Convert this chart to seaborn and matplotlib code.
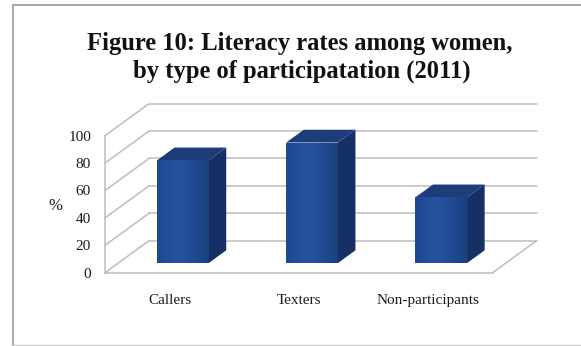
import matplotlib
matplotlib.use("Agg")
import matplotlib.pyplot as plt
import seaborn as sns
import numpy as np
from matplotlib.patches import Polygon
from matplotlib.lines import Line2D
from matplotlib.colors import LinearSegmentedColormap

# ---- data ----
categories = ["Callers", "Texters", "Non-participants"]
values = [75, 88, 48]
y_ticks = [0, 20, 40, 60, 80, 100]
title_lines = ["Figure 10: Literacy rates among women,", "by type of participatation (2011)"]
y_label = "%"

sns.set_style("white")
plt.rcParams["font.family"] = ["Liberation Serif", "DejaVu Serif"]

W, H = 581, 346
fig = plt.figure(figsize=(W / 100, H / 100), dpi=100)
fig.patch.set_facecolor("white")

# axes geometry (pixels)
ax_left, ax_right = 105, 545
ax_bottom, ax_top = 272.7, 95
slot_px = 129.2
unit_px = 1.37
ax = fig.add_axes([ax_left / W, (H - ax_bottom) / H, (ax_right - ax_left) / W, (ax_bottom - ax_top) / H])
ax.set_facecolor("none")

# oblique depth (data units)
DX = 44 / slot_px
DY = 32 / unit_px
front_f, depth_f = 0.30, 0.40

front_col = "#214A91"
side_col = "#162F64"
top_col = "#1C3C7A"
grid_col = "#BDBDBD"
front_cmap = LinearSegmentedColormap.from_list(
    "front", [(0.0, "#1F4890"), (0.4, "#2653A0"), (0.75, "#1F4A91"), (1.0, "#1A407F")])

sns.barplot(x=categories, y=values, width=0.4, color=front_col, saturation=1,
            ax=ax, zorder=3, linewidth=0)

grad = np.linspace(0, 1, 64).reshape(1, -1)
for p in list(ax.patches):
    p.set_x(p.get_x() + front_f * DX)
    p.set_y(front_f * DY)
    p.set_zorder(3)
    x0, y0, w, h = p.get_x(), p.get_y(), p.get_width(), p.get_height()
    im = ax.imshow(grad, cmap=front_cmap, extent=[x0, x0 + w, y0, y0 + h],
                   aspect="auto", zorder=3.05, interpolation="bilinear")
    im.set_clip_path(p)
    bx, by = depth_f * DX, depth_f * DY
    side = Polygon([(x0 + w, y0), (x0 + w + bx, y0 + by), (x0 + w + bx, y0 + h + by), (x0 + w, y0 + h)],
                   closed=True, facecolor=side_col, edgecolor="none", zorder=3)
    top = Polygon([(x0, y0 + h), (x0 + w, y0 + h), (x0 + w + bx, y0 + h + by), (x0 + bx, y0 + h + by)],
                  closed=True, facecolor=top_col, edgecolor="none", zorder=3)
    ax.add_patch(side)
    ax.add_patch(top)

n = len(categories)
xmin, xmax = -0.5, n - 0.5
# back wall gridlines and left wall diagonals
for v in y_ticks:
    ax.plot([xmin + DX, xmax + DX], [v + DY, v + DY], color=grid_col, lw=1.1, zorder=1, clip_on=False)
    ax.plot([xmin, xmin + DX], [v, v + DY], color=grid_col, lw=1.1, zorder=1, clip_on=False)
# floor right edge
ax.plot([xmax, xmax + DX], [0, DY], color=grid_col, lw=1.1, zorder=1, clip_on=False)

ax.set_xlim(xmin, xmin + (ax_right - ax_left) / slot_px)
ax.set_ylim(0, (ax_bottom - ax_top) / unit_px)

for s in ["top", "right"]:
    ax.spines[s].set_visible(False)
ax.spines["left"].set_bounds(0, 100)
ax.spines["bottom"].set_bounds(xmin, xmax)
for s in ["left", "bottom"]:
    ax.spines[s].set_color(grid_col)
    ax.spines[s].set_linewidth(1.1)

ax.set_yticks(y_ticks)
ax.set_yticklabels([str(t) for t in y_ticks])
ax.tick_params(axis="y", length=3, color=grid_col, width=1, pad=7, labelsize=11, labelcolor="#1A1A1A")
ax.set_xticks(range(n))
ax.set_xticklabels(categories)
ax.tick_params(axis="x", which="major", length=0, pad=15, labelsize=11, labelcolor="#1A1A1A")
ax.set_xticks([xmin + i for i in range(n + 1)], minor=True)
ax.tick_params(axis="x", which="minor", length=4, color=grid_col, width=1, direction="out")
ax.set_xlabel("")
ax.set_ylabel(y_label, rotation=0, fontsize=12, color="#1A1A1A", va="center", ha="center")
ax.yaxis.set_label_coords((55 - ax_left) / (ax_right - ax_left), (ax_bottom - 206) / (ax_bottom - ax_top))

# title (fit first line to measured width)
target_w = 426
t1 = fig.text(300 / W, 1 - 50 / H, title_lines[0], ha="center", va="baseline",
              fontsize=18, fontweight="bold", color="#111111")
fig.canvas.draw()
r = fig.canvas.get_renderer()
bw = t1.get_window_extent(r).width
fs = 18 * target_w / bw
t1.set_fontsize(fs)
fig.text(302 / W, 1 - 77.3 / H, title_lines[1], ha="center", va="baseline",
         fontsize=fs, fontweight="bold", color="#111111")

# chart border
fig.add_artist(Line2D([13 / W, 1.0], [1 - 5 / H, 1 - 5 / H], color="#9A9A9A", lw=1.2, transform=fig.transFigure))
fig.add_artist(Line2D([13 / W, 13 / W], [1 - 5 / H, 1 - 345 / H], color="#9A9A9A", lw=1.2, transform=fig.transFigure))
fig.add_artist(Line2D([13 / W, 1.0], [1 - 345 / H, 1 - 345 / H], color="#C8C8C8", lw=1.0, transform=fig.transFigure))

fig.savefig("out.png", dpi=100, facecolor="white")
